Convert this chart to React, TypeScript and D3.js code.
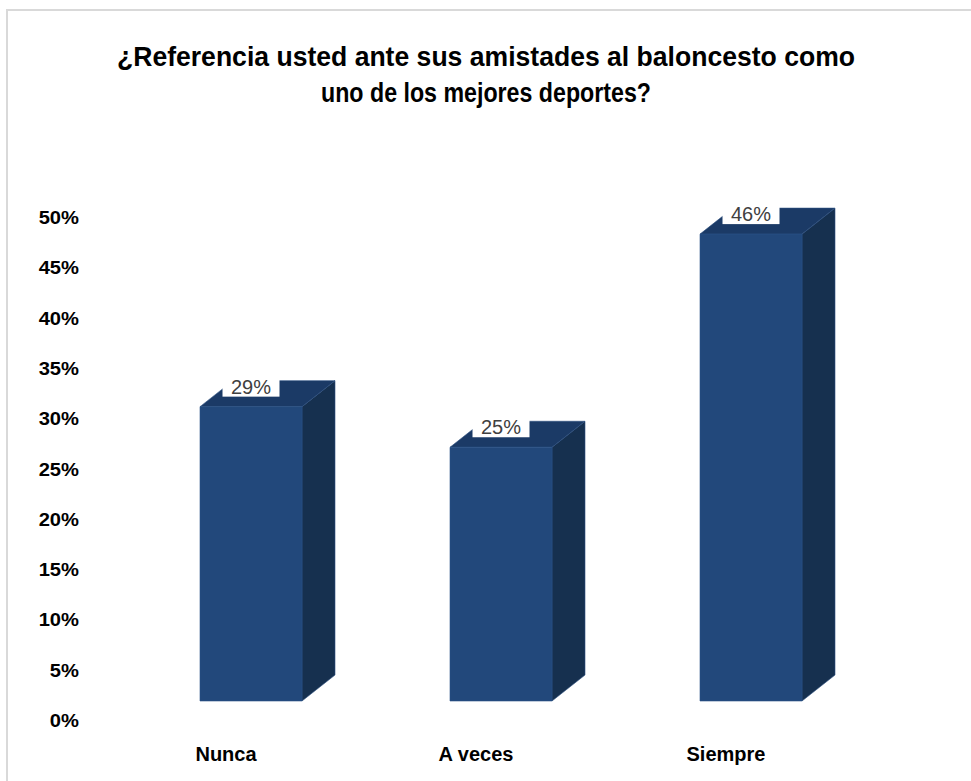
import React from "react";
import * as d3 from "d3";

const categories = ["Nunca", "A veces", "Siempre"];
const values = [0.29, 0.25, 0.46];
const valueLabels = ["29%", "25%", "46%"];
const yTicks = [0, 0.05, 0.1, 0.15, 0.2, 0.25, 0.3, 0.35, 0.4, 0.45, 0.5];
const titleLines = [
  "¿Referencia usted ante sus amistades al baloncesto como",
  "uno de los mejores deportes?",
];

const W = 971;
const H = 781;

export default function App() {
  const x = d3.scaleBand<string>().domain(categories).range([101, 851]);
  const yAxis = d3.scaleLinear().domain([0, 0.5]).range([721, 218]);
  const yBar = d3.scaleLinear().domain([0, 0.5]).range([701, 193.5]);
  const fmt = d3.format(".0%");
  const barW = 102;
  const dx = 33;
  const dy = -26;
  const front = "#22487b";
  const top = "#1b3a66";
  const side = "#16304f";

  return (
    <svg
      width={W}
      height={H}
      style={{ position: "absolute", left: 0, top: 0, background: "#fff" }}
      fontFamily="'Liberation Sans', Arial, sans-serif"
    >
      <rect x={0} y={0} width={W} height={H} fill="#fff" />
      <rect x={7} y={10} width={990} height={800} fill="#fff" stroke="#d9d9d9" strokeWidth={2} />

      {titleLines.map((t, i) => (
        <text
          key={i}
          x={486}
          y={66 + i * 36}
          textAnchor="middle"
          fontSize={28}
          fontWeight="bold"
          fill="#000"
          textLength={i === 0 ? 738 : 330}
          lengthAdjust="spacingAndGlyphs"
        >
          {t}
        </text>
      ))}

      {yTicks.map((t) => (
        <text
          key={t}
          transform={`translate(79,${yAxis(t) + 6}) scale(1.12,1)`}
          textAnchor="end"
          fontSize={18}
          fontWeight="bold"
          fill="#000"
        >
          {fmt(t)}
        </text>
      ))}

      {categories.map((c, i) => {
        const cx = (x(c) as number) + x.bandwidth() / 2;
        const x0 = cx - 26;
        const x1 = x0 + barW;
        const yT = yBar(values[i]);
        const yB = yBar(0);
        const frontPts = [
          [x0, yT],
          [x1, yT],
          [x1, yB],
          [x0, yB],
        ];
        const topPts = [
          [x0, yT],
          [x0 + dx, yT + dy],
          [x1 + dx, yT + dy],
          [x1, yT],
        ];
        const sidePts = [
          [x1, yT],
          [x1 + dx, yT + dy],
          [x1 + dx, yB + dy],
          [x1, yB],
        ];
        const p = (pts: number[][]) => pts.map((q) => q.join(",")).join(" ");
        const fc = x0 + barW / 2;
        return (
          <g key={c}>
            <polygon points={p(sidePts)} fill={side} stroke="#2c4f80" strokeWidth={0.6} />
            <polygon points={p(topPts)} fill={top} stroke="#2c4f80" strokeWidth={0.6} />
            <polygon points={p(frontPts)} fill={front} stroke="#2a5288" strokeWidth={0.6} />
            <rect x={fc - 28.5} y={yT - 28} width={57} height={18} fill="#fff" />
            <text x={fc} y={yT - 13} textAnchor="middle" fontSize={20} fill="#404040">
              {valueLabels[i]}
            </text>
            <text x={cx} y={761} textAnchor="middle" fontSize={20} fontWeight="bold" fill="#000">
              {c}
            </text>
          </g>
        );
      })}
    </svg>
  );
}
